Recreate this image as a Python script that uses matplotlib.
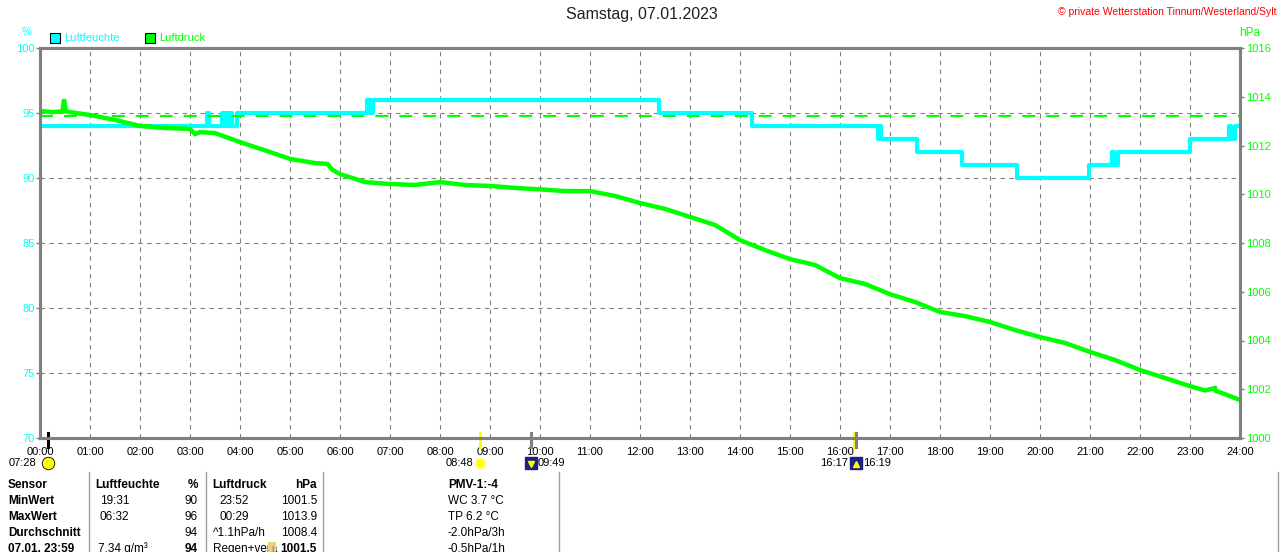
import matplotlib
matplotlib.use("Agg")
import matplotlib.pyplot as plt
import matplotlib.patches as patches
from matplotlib.lines import Line2D

plt.rcParams['font.family'] = ['Liberation Sans', 'DejaVu Sans']

W, H = 1280, 552

CYAN = '#00ffff'
GREEN = '#00ff00'
GRAY = '#808080'
YELLOW = '#ffff00'

TITLE = "Samstag, 07.01.2023"
COPYRIGHT = "© private Wetterstation Tinnum/Westerland/Sylt"

hour_ticks = list(range(0, 25))
hour_labels = [f"{h:02d}:00" for h in hour_ticks]

# Luftdruck (hPa)
pressure_time = [0.0, 0.25, 0.45, 0.48, 0.52, 0.6, 1.0, 1.5, 2.0, 2.5, 3.0, 3.1, 3.2, 3.5,
                 4.0, 4.5, 5.0, 5.5, 5.75, 5.85, 6.0, 6.5, 7.0, 7.5, 8.0, 8.5, 9.0, 9.5,
                 10.0, 10.5, 11.0, 11.5, 12.0, 12.5, 13.0, 13.5, 14.0, 14.5, 15.0, 15.5,
                 16.0, 16.5, 17.0, 17.5, 18.0, 18.5, 19.0, 19.5, 20.0, 20.5, 21.0, 21.5,
                 22.0, 22.5, 23.0, 23.3, 23.5, 23.52, 23.7, 24.0]
pressure_hpa = [1013.42, 1013.37, 1013.4, 1013.9, 1013.4, 1013.37, 1013.25, 1013.05, 1012.8,
                1012.72, 1012.68, 1012.47, 1012.55, 1012.51, 1012.14, 1011.8, 1011.45, 1011.28,
                1011.24, 1011.0, 1010.83, 1010.5, 1010.42, 1010.38, 1010.5, 1010.38, 1010.34,
                1010.26, 1010.2, 1010.13, 1010.13, 1009.93, 1009.64, 1009.4, 1009.07, 1008.74,
                1008.12, 1007.71, 1007.34, 1007.1, 1006.56, 1006.32, 1005.9, 1005.58, 1005.17,
                1005.0, 1004.76, 1004.43, 1004.14, 1003.9, 1003.53, 1003.2, 1002.79, 1002.46,
                1002.13, 1001.95, 1002.05, 1001.93, 1001.8, 1001.56]

# Luftfeuchte (%), step changes
humidity_time = [0.0, 3.33, 3.37, 3.63, 3.68, 3.72, 3.77, 3.80, 3.83, 3.93, 6.53, 6.60, 6.65,
                 12.38, 14.23, 16.75, 16.78, 16.82, 17.53, 18.43, 19.53, 20.97, 21.43, 21.47,
                 21.55, 23.0, 23.77, 23.82, 23.9, 24.0]
humidity_pct = [94, 95, 94, 95, 94, 95, 94, 95, 94, 95, 96, 95, 96,
                95, 94, 93, 94, 93, 92, 91, 90, 91, 92, 91,
                92, 93, 94, 93, 94, 94]

pressure_ref = 1013.2

# sun / moon events below the time axis
event_labels = ["07:28", "08:48", "09:49", "16:17", "16:19"]
event_times = [0.15, 8.8, 9.817, 16.283, 16.317]
event_colors = ['black', YELLOW, GRAY, YELLOW, GRAY]

# table under the chart
table_header = ["Sensor", "Luftfeuchte", "%", "Luftdruck", "hPa", "PMV-1:-4"]
table_rows = [
    ["MinWert", "19:31", "90", "23:52", "1001.5", "WC 3.7 °C"],
    ["MaxWert", "06:32", "96", "00:29", "1013.9", "TP 6.2 °C"],
    ["Durchschnitt", "", "94", "^1.1hPa/h", "1008.4", "-2.0hPa/3h"],
    ["07.01. 23:59", "7.34 g/m³", "94", "Regen+verä", "1001.5", "-0.5hPa/1h"],
]


def fx(px):
    return px / W


def fy(py):
    return 1 - py / H


fig = plt.figure(figsize=(W / 100, H / 100), dpi=100)
ax = fig.add_axes([fx(40), fy(438), 1200 / W, 390 / H])
ax2 = ax.twinx()

ax.set_xlim(0, 24)
ax.set_ylim(70, 100)
ax2.set_ylim(1000, 1016)

ax.set_xticks(hour_ticks)
ax.set_xticklabels(hour_labels)
ax.set_yticks(range(70, 101, 5))
ax2.set_yticks(range(1000, 1017, 2))

ax.grid(True, color=GRAY, linestyle=(0, (4, 4)), linewidth=0.8)
ax.set_axisbelow(True)

ax.tick_params(axis='x', length=0, pad=6.5, labelsize=8, labelcolor='black')
ax.tick_params(axis='y', length=3, width=1, color=GRAY, pad=1, labelsize=8, labelcolor=CYAN)
ax2.tick_params(axis='y', length=3, width=1, color=GRAY, pad=1.5, labelsize=8, labelcolor=GREEN)

for a in (ax, ax2):
    for s in a.spines.values():
        s.set_color(GRAY)
        s.set_linewidth(2.2)

ax.plot(humidity_time, humidity_pct, drawstyle='steps-post', color=CYAN, lw=3, solid_capstyle='butt')
ax2.axhline(pressure_ref, color=GREEN, lw=1.5, dashes=(6.2, 5.3))
ax2.plot(pressure_time, pressure_hpa, color=GREEN, lw=3.2, solid_joinstyle='miter')

# event ticks and icons
for lab, t, c in zip(event_labels, event_times, event_colors):
    ax.plot([t, t], [69.3, 70.4], color=c, lw=2.2, clip_on=False, zorder=5)

icon_y = 68.08
ax.plot([event_times[0]], [icon_y], marker='o', ms=9, mfc=YELLOW, mec='black', mew=0.6, clip_on=False)
ax.plot([event_times[1]], [icon_y], marker='o', ms=7, mfc=YELLOW, mec='#ffff80', mew=1.5, clip_on=False)
for t in (event_times[2], event_times[4]):
    ax.plot([t], [icon_y], marker='s', ms=8, mfc='#1a237e', mec='#1a237e', clip_on=False)
    ax.plot([t], [icon_y - 0.05], marker='v' if t < 12 else '^', ms=4, mfc=YELLOW, mec=YELLOW, clip_on=False)

txt_kw = dict(fontsize=8, va='center', xycoords=('data', 'axes fraction'), textcoords='offset points')
iy = (icon_y - 70) / 30
ax.annotate(event_labels[0], (event_times[0], iy), xytext=(-8, 0), ha='right', **txt_kw)
ax.annotate(event_labels[1], (event_times[1], iy), xytext=(-5, 0), ha='right', **txt_kw)
ax.annotate(event_labels[2], (event_times[2], iy), xytext=(5, 0), ha='left', **txt_kw)
ax.annotate(event_labels[3], (event_times[3], iy), xytext=(-4.5, 0), ha='right', **txt_kw)
ax.annotate(event_labels[4], (event_times[4], iy), xytext=(5, 0), ha='left', **txt_kw)

# titles and axis captions
fig.text(fx(642), fy(15), TITLE, ha='center', va='center', fontsize=11.5, color='#202020')
fig.text(fx(1277), fy(12), COPYRIGHT, ha='right', va='center', fontsize=7.5, color='red')
fig.text(fx(27), fy(32), "%", ha='center', va='center', fontsize=8, color=CYAN)
fig.text(fx(1250), fy(33), "hPa", ha='center', va='center', fontsize=8.5, color=GREEN)

# legend
for x0, col, name in ((50, CYAN, "Luftfeuchte"), (145, GREEN, "Luftdruck")):
    fig.patches.append(patches.Rectangle((fx(x0), fy(43)), 10 / W, 10 / H, transform=fig.transFigure,
                                         facecolor=col, edgecolor='black', lw=0.8))
    fig.text(fx(x0 + 14), fy(38), name, ha='left', va='center', fontsize=8, color=col)

# table
for xs in (89, 206, 323, 559, 1278):
    fig.add_artist(Line2D([fx(xs), fx(xs)], [fy(472), fy(552)], color='#a0a0a0', lw=1))

col_x = [8, 100, 198, 219, 317, 448]
col_ha = ['left', 'left', 'right', 'left', 'right', 'left']
row_y = [485, 501, 517, 533, 549]

hx = [8, 95, 198, 212, 317, 448]
for j, h in enumerate(table_header):
    fig.text(fx(hx[j]), fy(row_y[0]), h, ha=col_ha[j], va='center', fontsize=8.5, fontweight='bold')

for i, row in enumerate(table_rows):
    for j, v in enumerate(row):
        x = col_x[j]
        if j == 1 and i == 3:
            x = 98
        if j == 3 and i >= 2:
            x = 213
        bold = j == 0 or (i == 3 and j in (2, 4))
        fig.text(fx(x), fy(row_y[i + 1]), v, ha=col_ha[j], va='center', fontsize=8.5,
                 fontweight='bold' if bold else 'normal')

fig.text(fx(272), fy(row_y[4]), "↓", ha='center', va='center', fontsize=9, color='#1a237e',
         fontweight='bold', bbox=dict(boxstyle='square,pad=0.05', fc='#f0d080', ec='none'))

fig.savefig("out.png", dpi=100)
